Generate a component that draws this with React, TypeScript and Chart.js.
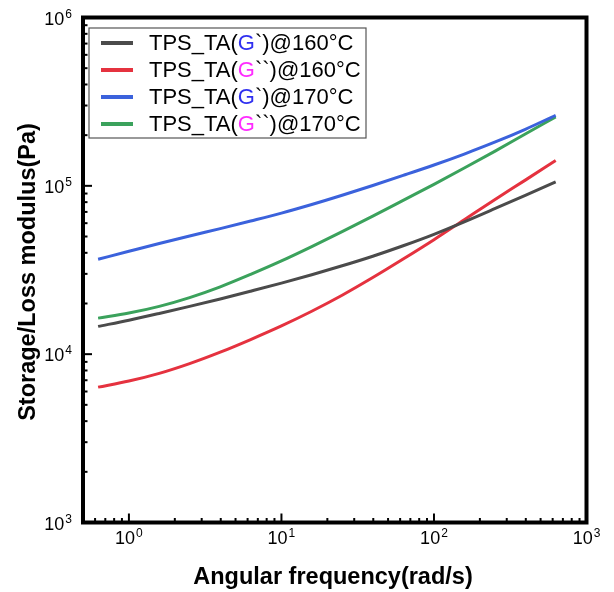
import React, { useEffect, useRef } from "react";
import { Chart, registerables } from "chart.js";

Chart.register(...registerables);

// ---- data ----
const omega = [0.628, 1, 1.58, 2.5, 3.97, 6.28, 10, 15.8, 25, 39.7, 62.8, 100, 158, 250, 397, 628];
const gPrime160 = [14620, 15920, 17460, 19230, 21280, 23660, 26420, 29650, 33500, 38190, 44060, 51520, 61090, 73110, 87900, 105700];
const gDouble160 = [6370, 6920, 7690, 8790, 10280, 12220, 14720, 17990, 22390, 28510, 36730, 47860, 62950, 82790, 108100, 141300];
const gPrime170 = [36640, 40830, 45390, 50350, 55720, 61800, 68870, 77450, 87900, 100500, 115300, 133000, 154500, 181600, 216800, 262400];
const gDouble170 = [16370, 17540, 19230, 21680, 25120, 29790, 35810, 43550, 53460, 66070, 82030, 102100, 127600, 160300, 203200, 257000];

const seriesLabels = ["TPS_TA(G`)@160°C", "TPS_TA(G``)@160°C", "TPS_TA(G`)@170°C", "TPS_TA(G``)@170°C"];
const seriesColors = ["#4b4b4b", "#e5323f", "#3b62dc", "#3ba25c"];
const gLetterColors = ["#3030f0", "#ff2cff", "#3030f0", "#ff2cff"];

const xMajorTicks = [1, 10, 100, 1000];
const xTickExponents = ["0", "1", "2", "3"];
const yMajorTicks = [1000, 10000, 100000, 1000000];
const yTickExponents = ["3", "4", "5", "6"];
const minorMultipliers = [2, 3, 4, 5, 6, 7, 8, 9];

const xTitle = "Angular frequency(rad/s)";
const yTitle = "Storage/Loss modulus(Pa)";

const FONT = '"Liberation Sans", Arial, sans-serif';

function drawPower(ctx: CanvasRenderingContext2D, exp: string, x: number, y: number, align: "right" | "center") {
  ctx.textBaseline = "middle";
  ctx.textAlign = "left";
  ctx.font = `18px ${FONT}`;
  const wb = ctx.measureText("10").width;
  ctx.font = `12px ${FONT}`;
  const we = ctx.measureText(exp).width;
  const total = wb + 1 + we;
  const sx = align === "right" ? x - total : x - total / 2;
  ctx.fillStyle = "#000";
  ctx.font = `18px ${FONT}`;
  ctx.fillText("10", sx, y);
  ctx.font = `12px ${FONT}`;
  ctx.fillText(exp, sx + wb + 1, y - 5.5);
}

const decorPlugin = {
  id: "decor",
  afterDraw(chart: any) {
    const { ctx, chartArea: a, scales } = chart;
    const xs = scales.x;
    const ys = scales.y;
    ctx.save();

    // minor + major ticks (inward)
    ctx.strokeStyle = "#000";
    ctx.lineWidth = 2;
    ctx.lineCap = "butt";
    const xBases = [xMajorTicks[0] / 10, ...xMajorTicks];
    xBases.forEach((b) => {
      minorMultipliers.forEach((m) => {
        const v = b * m;
        if (v < xs.min || v > xs.max) return;
        const px = xs.getPixelForValue(v);
        ctx.beginPath();
        ctx.moveTo(px, a.bottom);
        ctx.lineTo(px, a.bottom - 4.5);
        ctx.stroke();
      });
    });
    xMajorTicks.forEach((v) => {
      const px = xs.getPixelForValue(v);
      ctx.beginPath();
      ctx.moveTo(px, a.bottom);
      ctx.lineTo(px, a.bottom - 9);
      ctx.stroke();
    });
    yMajorTicks.forEach((b) => {
      minorMultipliers.forEach((m) => {
        const v = b * m;
        if (v < ys.min || v > ys.max) return;
        const py = ys.getPixelForValue(v);
        ctx.beginPath();
        ctx.moveTo(a.left, py);
        ctx.lineTo(a.left + 4.5, py);
        ctx.stroke();
      });
    });
    yMajorTicks.forEach((v) => {
      const py = ys.getPixelForValue(v);
      ctx.beginPath();
      ctx.moveTo(a.left, py);
      ctx.lineTo(a.left + 9, py);
      ctx.stroke();
    });

    // frame
    ctx.lineWidth = 4;
    ctx.strokeRect(a.left, a.top, a.right - a.left, a.bottom - a.top);

    // tick labels
    xMajorTicks.forEach((v, i) => {
      drawPower(ctx, xTickExponents[i], xs.getPixelForValue(v), a.bottom + 17, "center");
    });
    yMajorTicks.forEach((v, i) => {
      drawPower(ctx, yTickExponents[i], a.left - 11, ys.getPixelForValue(v) + 2.3, "right");
    });

    // axis titles
    ctx.fillStyle = "#000";
    ctx.font = `bold 23.5px ${FONT}`;
    ctx.textAlign = "center";
    ctx.textBaseline = "alphabetic";
    ctx.fillText(xTitle, 333, 583.5);
    ctx.save();
    ctx.translate(35, 272);
    ctx.rotate(-Math.PI / 2);
    ctx.fillText(yTitle, 0, 0);
    ctx.restore();

    // legend
    const lx = 89, ly = 28, lw = 277, lh = 110;
    ctx.fillStyle = "#fff";
    ctx.fillRect(lx, ly, lw, lh);
    ctx.strokeStyle = "#555";
    ctx.lineWidth = 1.2;
    ctx.strokeRect(lx, ly, lw, lh);
    ctx.font = `22px ${FONT}`;
    ctx.textAlign = "left";
    ctx.textBaseline = "middle";
    seriesLabels.forEach((label, i) => {
      const ry = 43 + i * 27;
      ctx.strokeStyle = seriesColors[i];
      ctx.lineWidth = 4;
      ctx.beginPath();
      ctx.moveTo(101, ry);
      ctx.lineTo(133, ry);
      ctx.stroke();
      const gi = label.indexOf("(G") + 1;
      const parts = [label.slice(0, gi), label.slice(gi, gi + 1), label.slice(gi + 1)];
      const colors = ["#000", gLetterColors[i], "#000"];
      let tx = 149;
      parts.forEach((p, k) => {
        ctx.fillStyle = colors[k];
        ctx.fillText(p, tx, ry + 1);
        tx += ctx.measureText(p).width;
      });
    });

    ctx.restore();
  },
};

export default function App() {
  const canvasRef = useRef<HTMLCanvasElement | null>(null);

  useEffect(() => {
    const canvas = canvasRef.current;
    if (!canvas) return;
    const makeSet = (i: number, values: number[]) => ({
      label: seriesLabels[i],
      data: omega.map((w, k) => ({ x: w, y: values[k] })),
      borderColor: seriesColors[i],
      backgroundColor: seriesColors[i],
      borderWidth: 3,
      pointRadius: 0,
      fill: false,
      cubicInterpolationMode: "monotone" as const,
    });
    const chart = new Chart(canvas, {
      type: "line",
      data: {
        datasets: [
          makeSet(0, gPrime160),
          makeSet(1, gDouble160),
          makeSet(2, gPrime170),
          makeSet(3, gDouble170),
        ],
      },
      options: {
        animation: false,
        responsive: false,
        devicePixelRatio: 1,
        layout: { autoPadding: false, padding: { left: 0, top: 17.5, right: 27.5, bottom: 0 } },
        plugins: { legend: { display: false }, tooltip: { enabled: false } },
        scales: {
          x: {
            type: "logarithmic",
            min: 0.5,
            max: 1000,
            grid: { display: false },
            border: { display: false },
            ticks: { display: false },
            afterFit: (s: any) => {
              s.height = 69.5;
            },
          },
          y: {
            type: "logarithmic",
            min: 1000,
            max: 1000000,
            grid: { display: false },
            border: { display: false },
            ticks: { display: false },
            afterFit: (s: any) => {
              s.width = 83;
            },
          },
        },
      },
      plugins: [decorPlugin],
    });
    return () => chart.destroy();
  }, []);

  return (
    <div style={{ position: "absolute", left: 0, top: 0, width: 614, height: 592, background: "#fff" }}>
      <canvas ref={canvasRef} width={614} height={592} style={{ display: "block" }} />
    </div>
  );
}
